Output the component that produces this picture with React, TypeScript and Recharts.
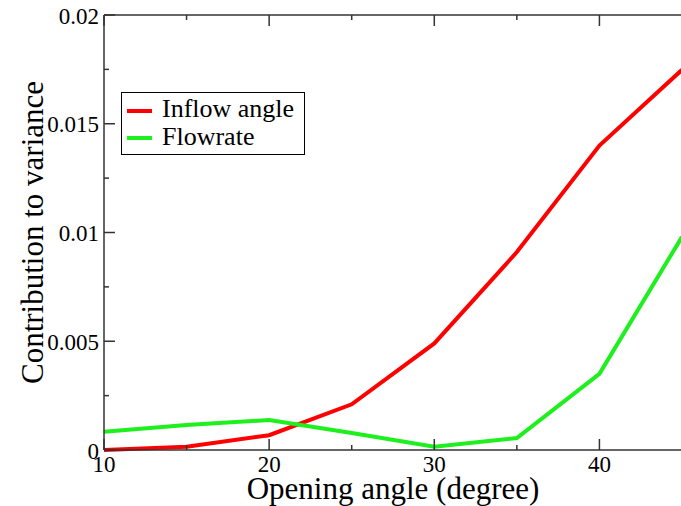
import React from "react"
import { LineChart, Line, XAxis, YAxis, Legend, Label } from "recharts"

// Contribution to variance vs opening angle
const angles = [10, 15, 20, 25, 30, 35, 40, 45]
const inflowAngle = [0, 0.00015, 0.00068, 0.0021, 0.0049, 0.0091, 0.014, 0.01748]
const flowrate = [0.00084, 0.00115, 0.00138, 0.00078, 0.00015, 0.00055, 0.0035, 0.0098]

const xTicks = [10, 15, 20, 25, 30, 35, 40, 45]
const xTickLabels = ["10", "20", "30", "40"]
const yTicks = [0, 0.0025, 0.005, 0.0075, 0.01, 0.0125, 0.015, 0.0175, 0.02]
const yTickLabels = ["0", "0.005", "0.01", "0.015", "0.02"]

const RED = "#ff0000"
const GREEN = "#1ef01e"
const FRAME = "#333333"
const SERIF = '"Liberation Serif", Tinos, "Times New Roman", Times, "DejaVu Serif", serif'

const chartData = angles.map((angle, i) => ({
  angle,
  inflow: inflowAngle[i],
  flow: flowrate[i],
}))

type Side = "bottom" | "top" | "left" | "right"

const textStyle = (size: number): React.CSSProperties => ({
  fontFamily: SERIF,
  fontSize: size,
})

// grace-style ticks: pointing into the plot, labels only on bottom/left
function AxisTick(props: any) {
  const { x, y, index, side } = props as { x: number; y: number; index: number; side: Side }
  const major = index % 2 === 0
  const len = major ? 11 : 5
  let x2 = x
  let y2 = y
  if (side === "bottom") y2 = y - len
  if (side === "top") y2 = y + len
  if (side === "left") x2 = x + len
  if (side === "right") x2 = x - len

  let label: React.ReactNode = null
  if (major && side === "bottom") {
    label = (
      <text x={x} y={y + 22} textAnchor="middle" style={textStyle(23)} fill="#000">
        {xTickLabels[index / 2]}
      </text>
    )
  }
  if (major && side === "left") {
    label = (
      <text
        x={x - 5}
        y={y + 1}
        textAnchor="end"
        dominantBaseline="central"
        style={textStyle(23)}
        fill="#000"
      >
        {yTickLabels[index / 2]}
      </text>
    )
  }

  return (
    <g>
      <line x1={x} y1={y} x2={x2} y2={y2} stroke={FRAME} strokeWidth={1.5} />
      {label}
    </g>
  )
}

function LegendBox() {
  const items = [
    { name: "Inflow angle", color: RED },
    { name: "Flowrate", color: GREEN },
  ]
  return (
    <svg width={184} height={63} style={{ display: "block" }}>
      <rect x={0.5} y={0.5} width={183} height={62} fill="#fff" stroke="#000" strokeWidth={1} />
      {items.map((item, i) => (
        <g key={item.name}>
          <line
            x1={6}
            x2={31}
            y1={19 + i * 27}
            y2={19 + i * 27}
            stroke={item.color}
            strokeWidth={4}
          />
          <text x={41} y={25 + i * 28} style={textStyle(26)} fill="#000">
            {item.name}
          </text>
        </g>
      ))}
    </svg>
  )
}

export default function App() {
  return (
    <div
      style={{
        position: "fixed",
        left: 0,
        top: 0,
        width: 681,
        height: 506,
        overflow: "hidden",
        background: "#fff",
      }}
    >
      <LineChart
        width={700}
        height={506}
        data={chartData}
        margin={{ top: 14, right: 17, bottom: 55, left: 103 }}
      >
        <XAxis
          dataKey="angle"
          type="number"
          domain={[10, 45]}
          ticks={xTicks}
          height={1}
          tickSize={0}
          tickMargin={0}
          tickLine={false}
          axisLine={{ stroke: FRAME, strokeWidth: 1.5 }}
          tick={(p: any) => <AxisTick {...p} side="bottom" />}
          interval={0}
        >
          <Label
            content={({ viewBox }: any) => (
              <text
                x={viewBox.x + viewBox.width / 2}
                y={viewBox.y + 49}
                textAnchor="middle"
                style={textStyle(31)}
                fill="#000"
              >
                Opening angle (degree)
              </text>
            )}
          />
        </XAxis>
        <XAxis
          xAxisId="top"
          orientation="top"
          dataKey="angle"
          type="number"
          domain={[10, 45]}
          ticks={xTicks}
          height={1}
          tickSize={0}
          tickMargin={0}
          tickLine={false}
          axisLine={{ stroke: FRAME, strokeWidth: 1.5 }}
          tick={(p: any) => <AxisTick {...p} side="top" />}
          interval={0}
        />
        <YAxis
          type="number"
          domain={[0, 0.02]}
          ticks={yTicks}
          width={1}
          tickSize={0}
          tickMargin={0}
          tickLine={false}
          axisLine={{ stroke: FRAME, strokeWidth: 1.5 }}
          tick={(p: any) => <AxisTick {...p} side="left" />}
          interval={0}
        >
          <Label
            content={({ viewBox }: any) => {
              const cy = viewBox.y + viewBox.height / 2
              return (
                <text
                  transform={`translate(43, ${cy}) rotate(-90)`}
                  textAnchor="middle"
                  style={textStyle(31)}
                  fill="#000"
                >
                  Contribution to variance
                </text>
              )
            }}
          />
        </YAxis>
        <YAxis
          yAxisId="right"
          orientation="right"
          type="number"
          domain={[0, 0.02]}
          ticks={yTicks}
          width={1}
          tickSize={0}
          tickMargin={0}
          tickLine={false}
          axisLine={{ stroke: FRAME, strokeWidth: 1.5 }}
          tick={(p: any) => <AxisTick {...p} side="right" />}
          interval={0}
        />
        <Legend
          layout="vertical"
          align="center"
          verticalAlign="middle"
          wrapperStyle={{ left: 121, top: 92, width: 184, height: 63 }}
          content={() => <LegendBox />}
        />
        <Line
          type="linear"
          dataKey="inflow"
          name="Inflow angle"
          stroke={RED}
          strokeWidth={4}
          dot={false}
          isAnimationActive={false}
        />
        <Line
          type="linear"
          dataKey="flow"
          name="Flowrate"
          stroke={GREEN}
          strokeWidth={4}
          dot={false}
          isAnimationActive={false}
        />
      </LineChart>
    </div>
  )
}
